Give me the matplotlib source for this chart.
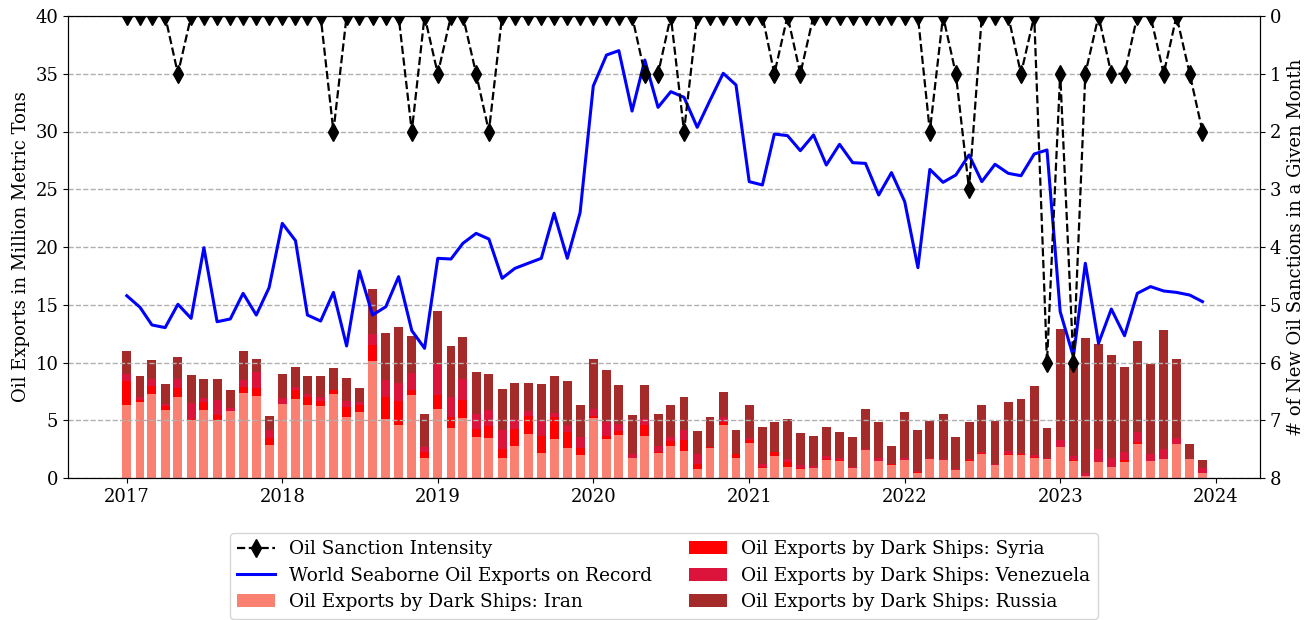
import matplotlib
matplotlib.use("Agg")
import matplotlib.pyplot as plt
import matplotlib.dates as mdates
import pandas as pd
import numpy as np

plt.rcParams['font.family'] = ['DejaVu Serif']
plt.rcParams['font.size'] = 13

months = pd.date_range('2017-01-01', periods=84, freq='MS')

world_exports = [
    15.78, 14.78, 13.25, 13.02, 15.04, 13.82, 19.94, 13.53, 13.77, 15.99, 14.11, 16.48,
    22.05, 20.55, 14.11, 13.59, 16.07, 11.43, 17.92, 14.11, 14.83, 17.43, 12.76, 11.23,
    19.02, 18.96, 20.32, 21.18, 20.69, 17.29, 18.15, 18.59, 19.02, 22.92, 19.02, 22.97,
    33.94, 36.62, 37.00, 31.77, 36.19, 32.09, 33.45, 32.96, 30.36, 32.70, 35.04, 34.03,
    25.66, 25.37, 29.78, 29.64, 28.34, 29.70, 27.10, 28.89, 27.30, 27.24, 24.50, 26.44,
    23.93, 18.21, 26.72, 25.60, 26.23, 27.97, 25.66, 27.16, 26.38, 26.17, 28.05, 28.40,
    14.40, 10.50, 18.59, 11.66, 14.63, 12.32, 15.99, 16.57, 16.19, 16.07, 15.84, 15.27]

iran = [
    6.32, 6.58, 7.27, 5.89, 7.01, 5.02, 5.89, 5.02, 5.83, 7.39, 7.10, 2.86,
    6.41, 6.84, 6.32, 6.23, 7.27, 5.28, 5.71, 10.13, 5.08, 4.59, 7.19, 1.73,
    5.97, 4.33, 5.19, 3.55, 3.46, 1.73, 2.77, 3.81, 2.16, 3.38, 2.60, 1.99,
    5.19, 3.38, 3.72, 1.73, 3.64, 2.16, 2.77, 2.34, 0.78, 2.60, 4.59, 1.73,
    3.03, 0.87, 1.90, 0.95, 0.78, 0.87, 1.59, 1.47, 0.87, 2.42, 1.47, 1.13,
    1.56, 0.46, 1.65, 1.56, 0.69, 1.47, 2.08, 1.13, 1.99, 1.99, 1.73, 1.65,
    2.68, 1.47, 0.20, 1.39, 0.95, 1.39, 2.94, 1.47, 1.65, 2.94, 1.65, 0.43]

syria = [
    2.11, 0.17, 0.70, 0.37, 0.81, 0.10, 0.72, 0.46, 0.00, 0.52, 0.66, 0.57,
    0.03, 0.78, 0.72, 0.47, 0.32, 0.90, 0.64, 1.39, 1.93, 2.08, 0.43, 0.52,
    1.25, 0.95, 1.56, 0.69, 1.04, 0.78, 1.47, 1.56, 1.48, 1.90, 1.38, 0.61,
    0.18, 0.29, 0.38, 0.00, 0.95, 0.09, 0.43, 0.95, 0.43, 0.05, 0.29, 0.35,
    0.26, 0.05, 0.35, 0.43, 0.06, 0.03, 0.08, 0.08, 0.00, 0.00, 0.03, 0.05,
    0.03, 0.03, 0.00, 0.00, 0.00, 0.06, 0.06, 0.00, 0.06, 0.05, 0.12, 0.00,
    0.00, 0.09, 0.00, 0.00, 0.00, 0.20, 0.18, 0.00, 0.00, 0.00, 0.00, 0.03]

venezuela = [
    0.55, 0.29, 0.60, 0.15, 0.78, 1.40, 0.35, 1.27, 0.26, 0.57, 1.39, 0.73,
    0.52, 0.29, 0.23, 0.34, 0.00, 0.52, 0.26, 0.95, 1.47, 1.58, 1.47, 0.41,
    2.62, 1.73, 1.85, 1.30, 1.39, 1.65, 0.87, 0.46, 1.38, 0.38, 0.61, 0.95,
    0.60, 1.21, 0.55, 0.38, 0.52, 0.52, 0.35, 0.87, 0.87, 0.06, 0.40, 0.00,
    0.14, 0.29, 0.00, 0.29, 0.29, 0.12, 0.23, 0.15, 0.08, 0.12, 0.23, 0.06,
    0.11, 0.14, 0.05, 0.06, 0.06, 0.12, 0.08, 0.05, 0.32, 0.10, 0.14, 0.05,
    0.61, 0.32, 0.25, 1.12, 0.75, 0.66, 0.86, 0.61, 0.86, 0.52, 0.00, 0.43]

russia = [
    2.02, 1.79, 1.65, 1.73, 1.88, 2.40, 1.61, 1.82, 1.53, 2.52, 1.15, 1.21,
    2.04, 1.73, 1.56, 1.79, 1.93, 1.96, 1.18, 3.89, 4.07, 4.82, 3.20, 2.88,
    4.62, 4.42, 3.61, 3.64, 3.11, 3.55, 3.12, 2.40, 3.12, 3.17, 3.81, 2.77,
    4.33, 4.47, 3.40, 3.34, 2.94, 2.77, 2.77, 2.85, 1.99, 2.57, 2.17, 2.08,
    2.89, 3.21, 2.60, 3.44, 2.77, 2.63, 2.52, 2.28, 2.60, 3.43, 3.12, 1.53,
    4.01, 3.53, 3.24, 3.92, 2.80, 3.20, 4.10, 3.76, 4.21, 4.70, 5.98, 2.63,
    9.61, 8.10, 11.65, 9.09, 8.95, 7.36, 7.88, 7.79, 10.30, 6.84, 1.29, 0.67]

sanctions = [
    0, 0, 0, 0, 1, 0, 0, 0, 0, 0, 0, 0,
    0, 0, 0, 0, 2, 0, 0, 0, 0, 0, 2, 0,
    1, 0, 0, 1, 2, 0, 0, 0, 0, 0, 0, 0,
    0, 0, 0, 0, 1, 1, 0, 2, 0, 0, 0, 0,
    0, 0, 1, 0, 1, 0, 0, 0, 0, 0, 0, 0,
    0, 0, 2, 0, 1, 3, 0, 0, 0, 1, 0, 6,
    1, 6, 1, 0, 1, 1, 0, 0, 1, 0, 1, 2]

year_ticks = [str(y) for y in range(2017, 2025)]

fig = plt.figure(figsize=(13.15, 6.2), dpi=100)
ax = fig.add_axes([68/1315, 1-478/620, (1260-68)/1315, (478-16)/620])

x = mdates.date2num(months.to_pydatetime())
w = 21
iran_a = np.array(iran); syr_a = np.array(syria); ven_a = np.array(venezuela); rus_a = np.array(russia)
b1 = ax.bar(x, iran_a, width=w, color='salmon', label='Oil Exports by Dark Ships: Iran')
b2 = ax.bar(x, syr_a, width=w, bottom=iran_a, color='red', label='Oil Exports by Dark Ships: Syria')
b3 = ax.bar(x, ven_a, width=w, bottom=iran_a+syr_a, color='crimson', label='Oil Exports by Dark Ships: Venezuela')
b4 = ax.bar(x, rus_a, width=w, bottom=iran_a+syr_a+ven_a, color='brown', label='Oil Exports by Dark Ships: Russia')
l1, = ax.plot(x, world_exports, color='blue', lw=2.2, label='World Seaborne Oil Exports on Record')

ax.set_ylim(0, 40)
ax.set_yticks(range(0, 41, 5))
ax.set_ylabel('Oil Exports in Million Metric Tons')
ax.grid(axis='y', linestyle='--', color='#b0b0b0', lw=1)

xt = mdates.date2num([pd.Timestamp(f'{y}-01-01').to_pydatetime() for y in year_ticks])
ax.set_xticks(xt)
ax.set_xticklabels(year_ticks)
ax.set_xlim(mdates.date2num(pd.Timestamp('2016-08-16').to_pydatetime()),
            mdates.date2num(pd.Timestamp('2024-04-14').to_pydatetime()))

ax2 = ax.twinx()
l2, = ax2.plot(x, sanctions, color='black', ls='--', lw=1.6, marker='d', markersize=9,
               label='Oil Sanction Intensity')
ax2.set_ylim(8, 0)
ax2.set_yticks(range(0, 9))
ax2.set_ylabel('# of New Oil Sanctions in a Given Month')

handles = [l2, l1, b1, b2, b3, b4]
labels = [h.get_label() for h in handles]
ax2.legend(handles, labels, loc='upper center', bbox_to_anchor=(0.5, -0.099), ncol=2,
           fontsize=13.35, labelspacing=0.45)

fig.savefig('out.png', dpi=100)
